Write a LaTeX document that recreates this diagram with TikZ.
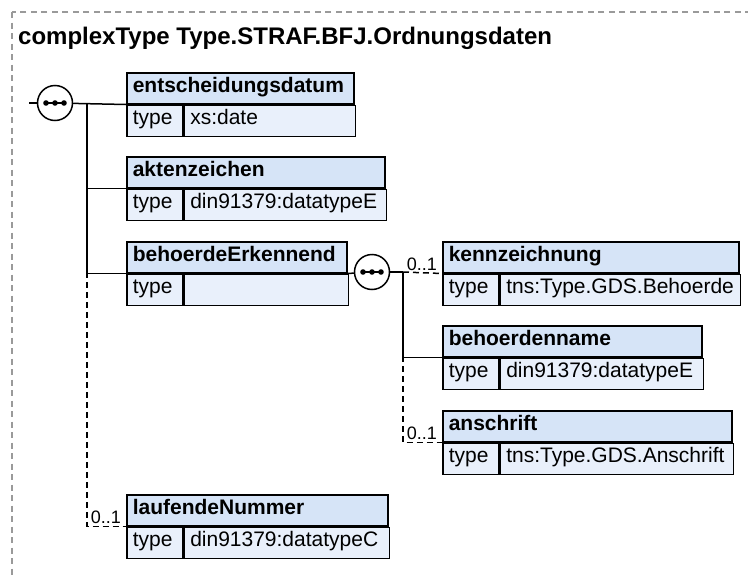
\documentclass[tikz,border=0pt]{standalone}
\usepackage{fontspec}
\setmainfont{Liberation Sans}
\usetikzlibrary{positioning, calc}
\definecolor{XsdHead}{HTML}{D6E4F7}
\definecolor{XsdBody}{HTML}{E9F0FB}
\definecolor{XsdFrame}{HTML}{9A9A9A}
\tikzset{
    % Box styles - header row and type row
    elemhead/.style={
        rectangle,
        draw=black,
        fill=XsdHead,
        line width=1.5pt,
        anchor=north west,
        inner xsep=6pt,
        inner ysep=0pt,
        text width=#1,
        text height=19.5pt,
        text depth=11.5pt,
        font=\fontsize{21}{24}\selectfont\bfseries
    },
    typekey/.style={
        rectangle,
        draw=black,
        fill=XsdBody,
        line width=1.5pt,
        anchor=north west,
        inner xsep=6pt,
        inner ysep=0pt,
        text width=44pt,
        text height=19.5pt,
        text depth=11.5pt,
        font=\fontsize{21}{24}\selectfont
    },
    typeval/.style={
        typekey,
        text width=#1
    },
    seq/.style={
        circle,
        draw=black,
        fill=white,
        line width=1.5pt,
        minimum size=35pt,
        inner sep=0pt
    },
    card/.style={
        inner sep=0pt,
        font=\fontsize{18}{20}\selectfont
    },
    title/.style={
        inner sep=0pt,
        font=\fontsize{24}{28}\selectfont\bfseries
    },
    % Connector styles
    conn/.style={
        line width=1.5pt,
        draw=black
    },
    optconn/.style={
        line width=1.5pt,
        draw=black,
        dash pattern=on 6pt off 4pt
    }
}

\begin{document}
\begin{tikzpicture}[x=1pt, y=-1pt]
    \useasboundingbox (0,0) rectangle (748,576);
    \draw[XsdFrame, line width=1.2pt, dash pattern=on 6pt off 4.5pt] (12,12) rectangle (770,600);

    \node[title, anchor=base west] (ttl) at (18,44) {complexType Type.STRAF.BFJ.Ordnungsdaten};

    % Elements of the outer sequence
    \node[elemhead=215pt] (e1) at (126,72) {entscheidungsdatum};
    \node[typekey] (e1k) at (e1.south west) {type};
    \node[typeval=159pt] (e1v) at (e1k.north east) {xs:date};

    \node[elemhead=246pt] (e2) at (126,156) {aktenzeichen};
    \node[typekey] (e2k) at (e2.south west) {type};
    \node[typeval=190pt] (e2v) at (e2k.north east) {din91379:datatypeE};

    \node[elemhead=208pt] (e3) at (126,241) {behoerdeErkennend};
    \node[typekey] (e3k) at (e3.south west) {type};
    \node[typeval=152pt] (e3v) at (e3k.north east) {};

    \node[elemhead=249pt] (e4) at (126,494) {laufendeNummer};
    \node[typekey] (e4k) at (e4.south west) {type};
    \node[typeval=193pt] (e4v) at (e4k.north east) {din91379:datatypeC};

    % Elements of the inner sequence
    \node[elemhead=284pt] (k1) at (442,241) {kennzeichnung};
    \node[typekey] (k1k) at (k1.south west) {type};
    \node[typeval=228pt] (k1v) at (k1k.north east) {tns:Type.GDS.Behoerde};

    \node[elemhead=247pt] (k2) at (442,325) {behoerdenname};
    \node[typekey] (k2k) at (k2.south west) {type};
    \node[typeval=191pt] (k2v) at (k2k.north east) {din91379:datatypeE};

    \node[elemhead=277pt] (k3) at (442,410) {anschrift};
    \node[typekey] (k3k) at (k3.south west) {type};
    \node[typeval=221pt] (k3v) at (k3k.north east) {tns:Type.GDS.Anschrift};

    % Sequence compositors
    \node[seq] (s1) at (55,103) {};
    \node[seq] (s2) at (372,272) {};
    \foreach \s in {s1,s2} {
        \draw[line width=1.5pt] ([xshift=-9pt]\s.center) -- ([xshift=9pt]\s.center);
        \foreach \d in {-9,0,9}
            \fill ([xshift=\d pt]\s.center) circle (2.8pt);
    }

    % Connectors
    \coordinate (lead) at (29,103);
    \coordinate (t1) at (87,103);
    \coordinate (t1b) at (87,272);
    \coordinate (t2) at (403,272);
    \coordinate (t2b) at (403,356);

    \draw[conn] (lead) -- (s1);
    \draw[conn] (s1) -- (e1.south west);
    \draw[conn] (t1) |- (e2.south west);
    \draw[conn] (t1) |- (e3.south west);
    \draw[optconn] (t1b) |- (e4.south west);

    \draw[conn] (e3.south east) -- (s2);
    \draw[conn] (s2) -- (t2);
    \draw[optconn] (t2) -- (k1.south west);
    \draw[conn] (t2) |- (k2.south west);
    \draw[optconn] (t2b) |- (k3.south west);

    % Cardinalities
    \node[card, anchor=base east] (c1) at ($(k1.south west)+(-5,-3)$) {0..1};
    \node[card, anchor=base east] (c3) at ($(k3.south west)+(-5,-3)$) {0..1};
    \node[card, anchor=base east] (c4) at ($(e4.south west)+(-5,-3)$) {0..1};
\end{tikzpicture}
\end{document}
